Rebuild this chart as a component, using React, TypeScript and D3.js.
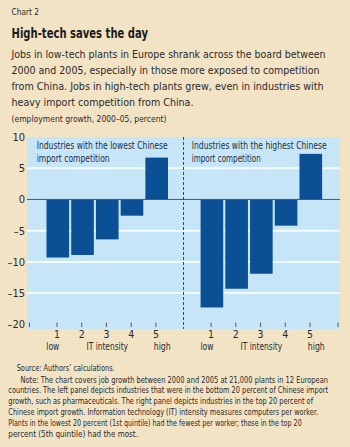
import React from 'react';
import * as d3 from 'd3';

const categories = ['1', '2', '3', '4', '5'];
const lowCompetition = [-9.3, -8.9, -6.4, -2.6, 6.7];
const highCompetition = [-17.3, -14.3, -11.9, -4.2, 7.3];
const yTicks = [10, 5, 0, -5, -10, -15, -20];
const gridValues = [5, -5, -10, -15];
const chartLabel = 'Chart 2';
const title = 'High-tech saves the day';
const subtitleLines = [
  'Jobs in low-tech plants in Europe shrank across the board between',
  '2000 and 2005, especially in those more exposed to competition',
  'from China. Jobs in high-tech plants grew, even in industries with',
  'heavy import competition from China.',
];
const unitsLabel = '(employment growth, 2000–05, percent)';
const leftPanelLabel = ['Industries with the lowest Chinese', 'import competition'];
const rightPanelLabel = ['Industries with the highest Chinese', 'import competition'];
const source = 'Source: Authors’ calculations.';
const noteLines = [
  'Note: The chart covers job growth between 2000 and 2005 at 21,000 plants in 12 European',
  'countries. The left panel depicts industries that were in the bottom 20 percent of Chinese import',
  'growth, such as pharmaceuticals. The right panel depicts industries in the top 20 percent of',
  'Chinese import growth. Information technology (IT) intensity measures computers per worker.',
  'Plants in the lowest 20 percent (1st quintile) had the fewest per worker; those in the top 20',
  'percent (5th quintile) had the most.',
];

const FONT = "'Liberation Sans Narrow', 'DejaVu Sans Condensed', 'Liberation Sans', Arial, sans-serif";
const BG = '#f3e3c5';
const PLOT_BG = '#c6e6f8';
const BAR = '#0b4f95';
const TEXT = '#2a2a2a';

function T(props: any) {
  const { w, children, ...rest } = props;
  return (
    <text fontFamily={FONT} {...rest} {...(w ? { textLength: w, lengthAdjust: 'spacingAndGlyphs' } : {})}>
      {children}
    </text>
  );
}

export default function App() {
  const W = 350, H = 447;
  const plot = { left: 27, right: 340, top: 137, bottom: 329 };
  const divider = 183.5;

  const y = d3.scaleLinear().domain([-20.75, 10]).range([plot.bottom, plot.top]);
  const xL = d3.scaleBand().domain(categories).range([45.5, 169]).paddingInner(0.085).paddingOuter(0.04);
  const xR = d3.scaleBand().domain(categories).range([199.6, 323.1]).paddingInner(0.085).paddingOuter(0.04);

  const subtitleWidths = [314, 308, 312, 182];
  const noteX = [20.5, 8.3, 8.3, 8.3, 8.3, 8.3];
  const noteEnds = [328, 328, 313, 318, 301.7, 138];

  const panels = [
    { x: xL, data: lowCompetition, label: leftPanelLabel, labelX: 36.7, labelW: [131, 73], edgeTick: plot.left + 2.5 },
    { x: xR, data: highCompetition, label: rightPanelLabel, labelX: 191.7, labelW: [135, 69], edgeTick: plot.right - 2 },
  ];

  return (
    <svg width={W} height={H} style={{ position: 'absolute', left: 0, top: 0 }}>
      <rect x={0} y={0} width={W} height={H} fill={BG} />
      <T x={11.5} y={15} fontSize={9} fill={TEXT} w={27.5}>{chartLabel}</T>
      <T x={11.5} y={37.5} fontSize={13.5} fontWeight="bold" fill="#1b1b1b" w={136.5}>{title}</T>
      {subtitleLines.map((s, i) => (
        <T key={i} x={11.5} y={57.5 + i * 16.3} fontSize={11} fill={TEXT} w={subtitleWidths[i]}>{s}</T>
      ))}
      <T x={11.5} y={121.5} fontSize={9} fill={TEXT} w={155}>{unitsLabel}</T>

      <rect x={plot.left} y={plot.top} width={plot.right - plot.left} height={plot.bottom - plot.top} fill={PLOT_BG} />
      {gridValues.map((v) => (
        <line key={v} x1={plot.left} x2={plot.right} y1={y(v)} y2={y(v)} stroke="#f4fbff" strokeWidth={2} />
      ))}

      {panels.map((p, pi) => (
        <g key={pi}>
          {p.data.map((v, i) => {
            const c = categories[i];
            const y0 = y(0), y1 = y(v);
            return (
              <rect key={c} x={p.x(c)} width={p.x.bandwidth()} y={Math.min(y0, y1)} height={Math.abs(y1 - y0)} fill={BAR} />
            );
          })}
          {p.label.map((s, li) => (
            <T key={li} x={p.labelX} y={148.5 + li * 13} fontSize={10} fill="#1f2d3d" w={p.labelW[li]}>{s}</T>
          ))}
          {categories.map((c) => {
            const cx = (p.x(c) as number) + p.x.bandwidth() / 2 - 0.8;
            return (
              <g key={c}>
                <line x1={cx} x2={cx} y1={322.5} y2={327} stroke="#5a5a5a" strokeWidth={1} />
                <T x={cx} y={338} fontSize={10.5} fill={TEXT} textAnchor="middle">{c}</T>
              </g>
            );
          })}
          <line x1={p.edgeTick} x2={p.edgeTick} y1={322.5} y2={327} stroke="#5a5a5a" strokeWidth={1} />
          <T x={(p.x('1') as number) + p.x.bandwidth() / 2 + 1.5} y={349.5} fontSize={10.5} fill={TEXT} textAnchor="end" w={13}>low</T>
          <T x={(p.x('3') as number) + p.x.bandwidth() / 2} y={349.5} fontSize={10.5} fill={TEXT} textAnchor="middle" w={41.5}>IT intensity</T>
          <T x={(p.x('5') as number) + p.x.bandwidth() / 2 - 3} y={349.5} fontSize={10.5} fill={TEXT} textAnchor="start" w={17}>high</T>
        </g>
      ))}

      <line x1={plot.left} x2={plot.right} y1={y(0)} y2={y(0)} stroke="#4d5860" strokeWidth={1} />
      <line x1={divider} x2={divider} y1={plot.top} y2={plot.bottom} stroke="#3c4650" strokeWidth={1} strokeDasharray="3,2" />

      {yTicks.map((v) => (
        <T key={v} x={25} y={y(v)} dy="0.35em" fontSize={11} fill={TEXT} textAnchor="end">{v < 0 ? `–${Math.abs(v)}` : `${v}`}</T>
      ))}

      <T x={16.7} y={371} fontSize={8.5} fill={TEXT} w={98}>{source}</T>
      {noteLines.map((s, i) => (
        <T key={i} x={noteX[i]} y={382.5 + i * 10.8} fontSize={8.5} fill={TEXT} w={noteEnds[i] - noteX[i]}>{s}</T>
      ))}
    </svg>
  );
}
